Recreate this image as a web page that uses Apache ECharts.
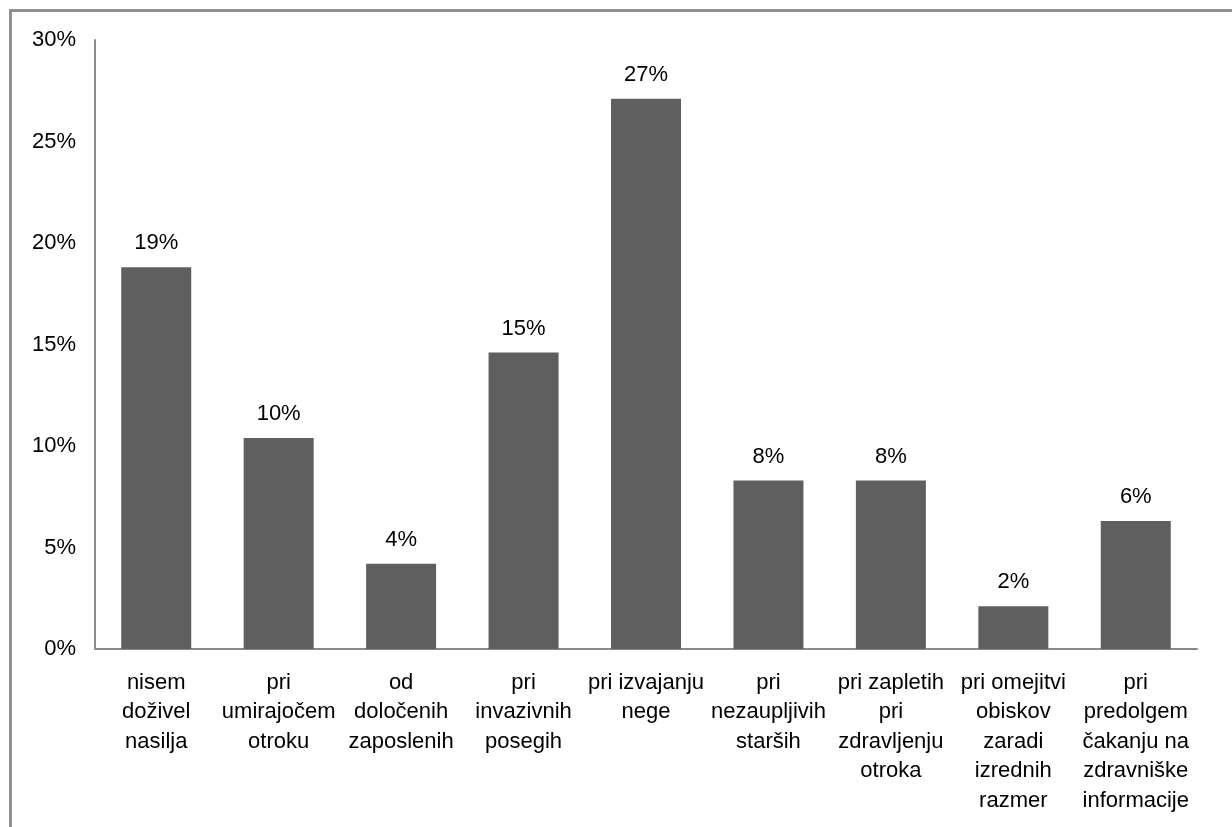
<!DOCTYPE html>
<html>
<head>
<meta charset="utf-8">
<title>Nasilje</title>
<script src="https://cdn.jsdelivr.net/npm/echarts@6/dist/echarts.min.js"></script>
<style>
  html, body { margin: 0; padding: 0; background: #ffffff; }
  #chart { width: 1232px; height: 827px; }
</style>
</head>
<body>
<div id="chart"></div>
<script>
// Category labels (line breaks as shown under each bar)
const categories = [
  'nisem\ndoživel\nnasilja',
  'pri\numirajočem\notroku',
  'od\ndoločenih\nzaposlenih',
  'pri\ninvazivnih\nposegih',
  'pri izvajanju\nnege',
  'pri\nnezaupljivih\nstarših',
  'pri zapletih\npri\nzdravljenju\notroka',
  'pri omejitvi\nobiskov\nzaradi\nizrednih\nrazmer',
  'pri\npredolgem\nčakanju na\nzdravniške\ninformacije'
];

// Share of respondents, in percent
const shares = [18.8, 10.4, 4.2, 14.6, 27.1, 8.3, 8.3, 2.1, 6.3];

// Value axis ticks
const yMin = 0;
const yMax = 30;
const yStep = 5;

const FONT = '"Liberation Sans", Arial, sans-serif';
const AXIS_GRAY = '#8a8a8a';

const chart = echarts.init(document.getElementById('chart'), null, { renderer: 'canvas' });

chart.setOption({
  animation: false,
  backgroundColor: '#ffffff',
  textStyle: { fontFamily: FONT },
  graphic: [
    // Frame along the left and top edges
    { type: 'line', shape: { x1: 10.5, y1: 9, x2: 10.5, y2: 827 }, style: { stroke: '#909090', lineWidth: 3 } },
    { type: 'line', shape: { x1: 9, y1: 10.5, x2: 1232, y2: 10.5 }, style: { stroke: '#909090', lineWidth: 3 } }
  ],
  grid: { left: 95, right: 35, top: 40, bottom: 178, containLabel: false },
  xAxis: {
    type: 'category',
    data: categories,
    axisLine: { show: true, lineStyle: { color: AXIS_GRAY, width: 2 } },
    axisTick: { show: false },
    axisLabel: {
      interval: 0,
      margin: 19,
      color: '#000000',
      fontFamily: FONT,
      fontSize: 22,
      lineHeight: 29.5,
      align: 'center'
    }
  },
  yAxis: {
    type: 'value',
    min: yMin,
    max: yMax,
    interval: yStep,
    axisLine: { show: true, lineStyle: { color: AXIS_GRAY, width: 2 } },
    axisTick: { show: false },
    splitLine: { show: false },
    axisLabel: {
      margin: 19,
      color: '#000000',
      fontFamily: FONT,
      fontSize: 22,
      formatter: v => v + '%'
    }
  },
  series: [{
    type: 'bar',
    data: shares,
    barWidth: 70,
    itemStyle: { color: '#5f5f5f' },
    label: {
      show: true,
      position: 'top',
      distance: 13,
      color: '#000000',
      fontFamily: FONT,
      fontSize: 22,
      lineHeight: 22,
      formatter: p => Math.round(p.value) + '%'
    }
  }]
});
</script>
</body>
</html>
